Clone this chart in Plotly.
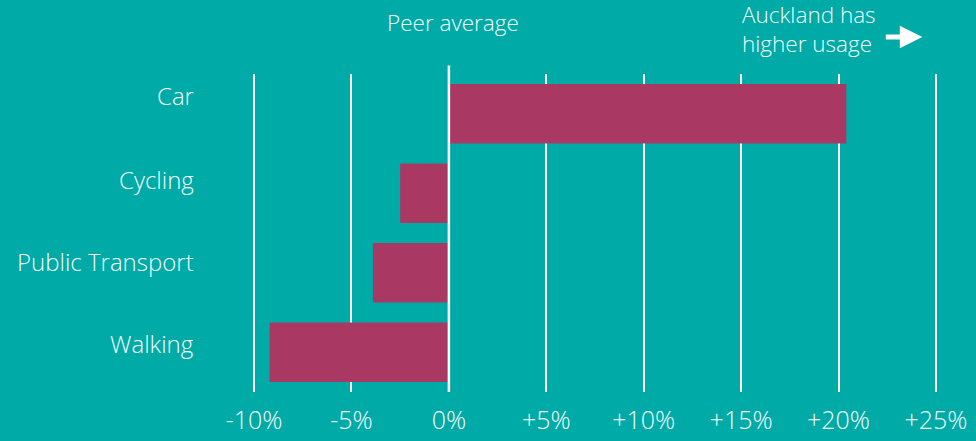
import plotly.graph_objects as go

# data
modes = ["Car", "Cycling", "Public Transport", "Walking"]
diff_pct = [20.4, -2.5, -3.9, -9.2]
tick_vals = [-10, -5, 0, 5, 10, 15, 20, 25]
tick_text = ["-10%", "-5%", "0%", "+5%", "+10%", "+15%", "+20%", "+25%"]

BG = "rgb(0,170,167)"
BAR = "rgb(169,56,98)"
TXT = "#F2FBFA"
FONT = "Open Sans"

fig = go.Figure(
    go.Bar(
        x=diff_pct,
        y=modes,
        orientation="h",
        width=0.75,
        marker=dict(color=BAR, line=dict(width=0)),
        hoverinfo="x+y",
    )
)

# category labels sit a little above the bar centres in the original
label_shift = [18, 14, 11, 9]
for m, dy in zip(modes, label_shift):
    fig.add_annotation(text=m, xref="paper", yref="y", x=0, y=m, xshift=-38, yshift=dy,
                       xanchor="right", yanchor="middle", showarrow=False,
                       font=dict(size=24, color=TXT, family=FONT, weight=300))

# zero line (peer average) reaches a bit above the grid
fig.add_shape(type="line", xref="x", yref="paper", x0=0, x1=0, y0=0, y1=1.027,
              line=dict(color="white", width=2.5), layer="above")

fig.add_annotation(text="Peer average", xref="x", yref="paper", x=0.2, y=1.162,
                   showarrow=False, font=dict(size=22.5, color=TXT, family=FONT, weight=300),
                   xanchor="center", yanchor="middle")
fig.add_annotation(text="Auckland has<br>higher usage", xref="paper", yref="paper",
                   x=(740 - 234) / 722, y=1.14, showarrow=False, align="left",
                   font=dict(size=22.5, color=TXT, family=FONT, weight=300),
                   xanchor="left", yanchor="middle")
fig.add_annotation(text="", xref="x", yref="paper", x=24.3, y=(392 - 37) / 318,
                   ax=-38, ay=0, axref="pixel", ayref="pixel", showarrow=True,
                   arrowhead=2, arrowsize=0.9, arrowwidth=5, arrowcolor="white")

fig.update_layout(
    width=976,
    height=441,
    paper_bgcolor=BG,
    plot_bgcolor=BG,
    margin=dict(l=234, r=20, t=74, b=49),
    showlegend=False,
    font=dict(family=FONT, color=TXT, weight=300),
    xaxis=dict(
        range=[-11.03, 26.03],
        tickvals=tick_vals,
        ticktext=tick_text,
        showgrid=True,
        gridcolor="white",
        gridwidth=2,
        zeroline=False,
        showline=False,
        ticks="",
        tickfont=dict(size=25, color=TXT, family=FONT, weight=300),
        ticklabelstandoff=11,
        automargin=False,
        fixedrange=True,
    ),
    yaxis=dict(
        categoryorder="array",
        categoryarray=modes,
        autorange="reversed",
        showgrid=False,
        zeroline=False,
        showline=False,
        showticklabels=False,
        ticks="",
        automargin=False,
        fixedrange=True,
    ),
)

fig.write_html("out.html", config={"displayModeBar": False},
               post_script="document.body.style.margin='0';")
